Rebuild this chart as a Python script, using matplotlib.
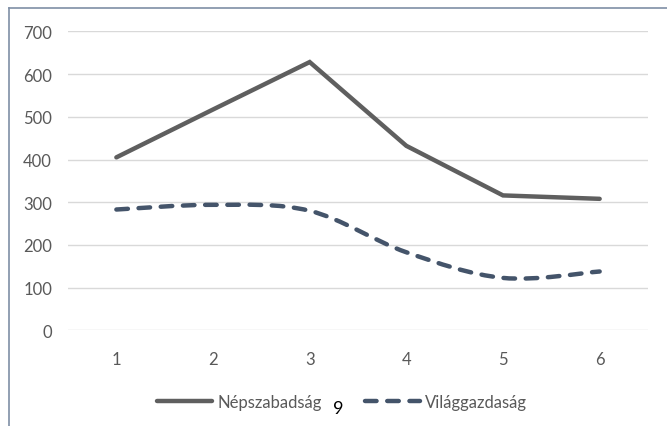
import matplotlib.pyplot as plt
import numpy as np
from matplotlib.path import Path
from matplotlib.patches import PathPatch
from matplotlib.lines import Line2D

# data
categories = [1, 2, 3, 4, 5, 6]
nepszabadsag = [405, 517, 628, 432, 316, 308]
vilaggazdasag = [283, 294, 280, 183, 123, 138]
y_ticks = [0, 100, 200, 300, 400, 500, 600, 700]
series_names = ['Népszabadság', 'Világgazdaság']

plt.rcParams['font.family'] = ['Lato', 'DejaVu Sans']

c_solid = '#5f5f5f'
c_dash = '#44546a'
c_text = '#595959'


def smooth_path(xs, ys):
	"""Catmull-Rom style bezier through the points (like Excel smoothed line)."""
	pts = np.column_stack([xs, ys]).astype(float)
	n = len(pts)
	verts = [pts[0]]
	codes = [Path.MOVETO]
	for i in range(n - 1):
		p0 = pts[i - 1] if i > 0 else pts[i]
		p1 = pts[i]
		p2 = pts[i + 1]
		p3 = pts[i + 2] if i + 2 < n else pts[i + 1]
		c1 = p1 + (p2 - p0) / 6.0
		c2 = p2 - (p3 - p1) / 6.0
		verts += [c1, c2, p2]
		codes += [Path.CURVE4] * 3
	return Path(verts, codes)


fig = plt.figure(figsize=(6.67, 4.27), dpi=100)
ax = fig.add_axes([0.102, 0.2237, 0.8695, 0.7007])

x = np.arange(len(categories))
ax.plot(x, nepszabadsag, color=c_solid, lw=3.2, solid_capstyle='round',
		solid_joinstyle='miter', zorder=3)

dash = PathPatch(smooth_path(x, vilaggazdasag), fill=False, edgecolor=c_dash,
				 lw=3.2, linestyle=(0, (2.6, 2.4)), capstyle='round', zorder=3)
ax.add_patch(dash)

ax.set_xlim(-0.5, len(categories) - 0.5)
ax.set_ylim(0, 700)
ax.set_yticks(y_ticks)
ax.set_xticks(x)
ax.set_xticklabels([str(c) for c in categories])
ax.yaxis.grid(True, color='#d9d9d9', lw=1)
ax.set_axisbelow(True)
for s in ax.spines.values():
	s.set_visible(False)
ax.tick_params(length=0, labelsize=12, labelcolor=c_text)
ax.tick_params(axis='y', pad=11.5)
ax.tick_params(axis='x', pad=15)

handles = [Line2D([], [], color=c_solid, lw=3.2, solid_capstyle='round'),
		   Line2D([], [], color=c_dash, lw=3.2, linestyle=(0, (2.6, 2.4)),
				  dash_capstyle='round')]
fig.legend(handles, series_names, loc='center left', bbox_to_anchor=(0.236, 0.056),
		   ncol=2, frameon=False, fontsize=12, handlelength=3.3,
		   handletextpad=0.3, columnspacing=2.6, labelcolor=c_text,
		   borderpad=0, borderaxespad=0)

# stray page number sitting in the legend
fig.text(0.4993, 0.042, '9', fontsize=13, color='black', ha='left', va='center')

# frame edges (left and top only)
fig.add_artist(Line2D([0.0135, 0.0135], [0, 0.979], color='#7f8fa6', lw=1.2,
					  transform=fig.transFigure))
fig.add_artist(Line2D([0.0135, 1.0], [0.979, 0.979], color='#7f8fa6', lw=1.2,
					  transform=fig.transFigure))

fig.savefig('out.png', dpi=100)
